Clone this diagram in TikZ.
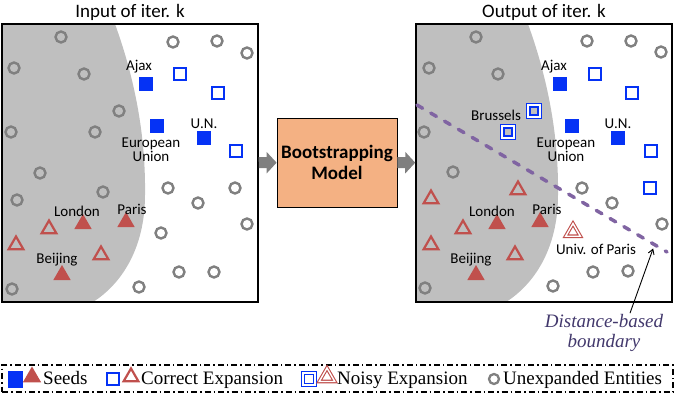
\documentclass[tikz,border=0pt]{standalone}
\usepackage{fontspec}
\setmainfont{Carlito}
\newfontfamily\legserif{Liberation Serif}
\usetikzlibrary{arrows.meta,positioning,calc,shapes.geometric}
\definecolor{entblue}{RGB}{5,50,245}
\definecolor{entred}{RGB}{192,80,77}
\definecolor{entgray}{RGB}{128,128,128}
\definecolor{regiongray}{RGB}{191,191,191}
\definecolor{modelfill}{RGB}{244,177,131}
\definecolor{bndpurple}{RGB}{128,100,162}
\definecolor{lblpurple}{RGB}{66,56,108}
\definecolor{arrowgray}{RGB}{127,127,127}
\tikzset{
  panel/.style={draw=black, line width=1.5pt, minimum width=256pt, minimum height=278pt, inner sep=0pt},
  paneltitle/.style={font=\fontsize{19}{21}\selectfont, inner sep=2pt},
  model/.style={draw=black, line width=0.8pt, fill=modelfill, minimum width=120pt, minimum height=89pt,
                align=center, font=\fontsize{19}{21}\selectfont\bfseries},
  flowarr/.style={-{Triangle[length=10pt,width=21pt]}, arrowgray, line width=11pt},
  unexp/.style={circle, draw=entgray, line width=2.4pt, minimum size=11pt, inner sep=0pt},
  seedsq/.style={rectangle, fill=entblue, minimum size=14pt, inner sep=0pt},
  corrsq/.style={rectangle, draw=entblue, line width=2.4pt, minimum size=11.5pt, inner sep=0pt},
  noisysq/.style={rectangle, draw=entblue, double=white, double distance=2pt, line width=1.3pt,
                  minimum size=11.5pt, inner sep=0pt},
  seedtri/.style={regular polygon, regular polygon sides=3, fill=entred, minimum size=20pt,
                  inner sep=0pt, yshift=2pt},
  corrtri/.style={regular polygon, regular polygon sides=3, draw=entred, line width=2.2pt,
                  minimum size=17pt, inner sep=0pt, yshift=2pt},
  noisytri/.style={regular polygon, regular polygon sides=3, draw=entred, double=white,
                   double distance=1.4pt, line width=1.1pt, minimum size=17pt, inner sep=0pt, yshift=2pt},
  entlbl/.style={font=\fontsize{15}{14}\selectfont, align=center, inner sep=0pt},
  bndline/.style={bndpurple, line width=3.5pt, line cap=round, dash pattern=on 6.5pt off 9.5pt},
  ptrarr/.style={-{Straight Barb[length=5pt,width=6pt]}, black, line width=0.9pt},
  bndlbl/.style={font=\legserif\itshape\fontsize{19}{20}\selectfont, text=lblpurple, align=center, inner sep=0pt},
  legframe/.style={draw=black, line width=1.4pt, dash pattern=on 6pt off 3pt on 1.5pt off 3pt,
                   minimum width=671pt, minimum height=27pt, inner sep=0pt},
  legtext/.style={font=\legserif\fontsize{19}{20}\selectfont, anchor=west, inner sep=0pt,
                  text height=14pt, text depth=4pt},
}
\begin{document}
\begin{tikzpicture}[x=1pt, y=-1pt]
  \useasboundingbox (0,0) rectangle (675,393);

  % shaded half of each panel
  \foreach \dx in {0,413}
    \fill[regiongray, xshift=\dx pt] (2,24) -- (115,24) .. controls (128,60) and (146,120) .. (145,195)
      .. controls (145,250) and (120,285) .. (93,302) -- (2,302) -- cycle;

  \node[panel] (inpanel) at (130,163) {};
  \node[panel] (outpanel) at (544,163) {};
  \node[paneltitle, above=0pt of inpanel] (intitle) {Input of iter. k};
  \node[paneltitle, above=0pt of outpanel] (outtitle) {Output of iter. k};

  \node[model] (model) at (337,162.5) {Bootstrapping\\Model};
  \draw[flowarr] (inpanel) -- (model);
  \draw[flowarr] (model) -- (outpanel);

  % input of iteration k
  \foreach \px/\py [count=\i] in {61/37,14/68,84/74,119/111,11/132,95/132,40/173,17/200,103/192,12/289,
      173/42,217/41,247/53,168/188,235/188,198/203,247/224,161/233,179/272,214/272,139/287}
    \node[unexp] (inc\i) at (\px,\py) {};
  \foreach \px/\py [count=\i] in {180/74,218/93,236/151}
    \node[corrsq] (insq\i) at (\px,\py) {};
  \foreach \px/\py [count=\i] in {49/231,16/247,101/257}
    \node[corrtri] (intri\i) at (\px,\py) {};
  \node[seedsq] (inAjax) at (146,84) {};
  \node[seedsq] (inEU) at (157,126) {};
  \node[seedsq] (inUN) at (204,138) {};
  \node[seedtri] (inLondon) at (83,226) {};
  \node[seedtri] (inParis) at (126,224) {};
  \node[seedtri] (inBeijing) at (62,277) {};
  \node[entlbl] (inAjaxlbl) at (139,67) {Ajax};
  \node[entlbl] (inEUlbl) at (151,150) {European\\Union};
  \node[entlbl] (inUNlbl) at (204,124) {U.N.};
  \node[entlbl] (inLondonlbl) at (77,211) {London};
  \node[entlbl] (inParislbl) at (132,209) {Paris};
  \node[entlbl] (inBeijinglbl) at (57,260) {Beijing};

  % output of iteration k
  \foreach \px/\py [count=\i] in {476/37,429/68,498/74,424/132,453/172,587/41,631/41,661/52,
      582/188,612/203,662/224,593/272,628/271,553/286,425/288}
    \node[unexp] (outc\i) at (\px,\py) {};
  \foreach \px/\py [count=\i] in {595/74,632/93,651/151,650/188}
    \node[corrsq] (outsq\i) at (\px,\py) {};
  \foreach \px/\py [count=\i] in {431/201,518/192,463/231,431/247,515/257}
    \node[corrtri] (outtri\i) at (\px,\py) {};
  \node[noisysq] (outnoisy1) at (534,111) {};
  \node[noisysq] (outBrussels) at (508,132) {};
  \node[noisytri] (outUniv) at (573,234) {};
  \node[seedsq] (outAjax) at (560,84) {};
  \node[seedsq] (outEU) at (572,126) {};
  \node[seedsq] (outUN) at (618,138) {};
  \node[seedtri] (outLondon) at (497,226) {};
  \node[seedtri] (outParis) at (540,224) {};
  \node[seedtri] (outBeijing) at (476,277) {};
  \node[entlbl] (outAjaxlbl) at (554,67) {Ajax};
  \node[entlbl] (outBrusselslbl) at (496,115) {Brussels};
  \node[entlbl] (outEUlbl) at (566,150) {European\\Union};
  \node[entlbl] (outUNlbl) at (618,124) {U.N.};
  \node[entlbl] (outLondonlbl) at (492,211) {London};
  \node[entlbl] (outParislbl) at (547,209) {Paris};
  \node[entlbl] (outBeijinglbl) at (471,260) {Beijing};
  \node[entlbl] (outUnivlbl) at (596,249) {Univ. of Paris};

  % boundary
  \coordinate (bndA) at (417,105);
  \coordinate (bndB) at (667,252);
  \draw[bndline] (bndA) -- (bndB);
  \node[bndlbl] (boundlbl) at (604,333) {Distance-based\\boundary};
  \draw[ptrarr, shorten >=4pt] ($(boundlbl.north)+(26,-1)$) -- ($(bndA)!0.95!(bndB)$);

  % legend
  \node[legframe] (legend) at (337.5,378.5) {};
  \node[seedsq, minimum width=15pt, minimum height=17pt] (lgseedsq) at (15,379) {};
  \node[seedtri, minimum size=21pt] (lgseedtri) at (32,379) {};
  \node[legtext] (lgseeds) at (43,379) {Seeds};
  \node[corrsq] (lgcorrsq) at (113,379) {};
  \node[corrtri] (lgcorrtri) at (131,379) {};
  \node[legtext] (lgcorr) at (141,379) {Correct Expansion};
  \node[noisysq, minimum size=12pt] (lgnoisysq) at (309,379) {};
  \node[noisytri, minimum size=18pt] (lgnoisytri) at (327,379) {};
  \node[legtext] (lgnoisy) at (337,379) {Noisy Expansion};
  \node[unexp, minimum size=10pt, line width=2.3pt] (lgunexp) at (494,379) {};
  \node[legtext] (lgunexptxt) at (503,379) {Unexpanded Entities};
\end{tikzpicture}
\end{document}
